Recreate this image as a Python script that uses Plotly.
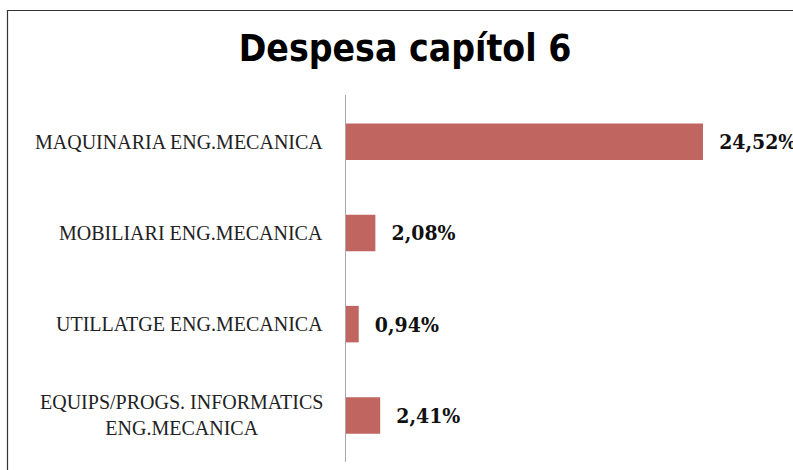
import plotly.graph_objects as go

categories = ["MAQUINARIA ENG.MECANICA", "MOBILIARI ENG.MECANICA",
              "UTILLATGE ENG.MECANICA", "EQUIPS/PROGS. INFORMATICS<br>ENG.MECANICA"]
values = [24.52, 2.08, 0.94, 2.41]
title = "Despesa capítol 6"

W, H = 793, 470
ml, mr, mt, mb = 345, 0, 96, 9
pw = W - ml - mr
ph = H - mt - mb

fig = go.Figure()
fig.add_trace(go.Bar(
    y=categories, x=values, orientation="h",
    marker=dict(color="#c0655f", line=dict(width=0)),
    width=0.4,
    text=[f"{v:.2f}".replace(".", ",") + "%" for v in values],
    textposition="outside",
    texttemplate="  %{text}",
    textfont=dict(family="DejaVu Serif Condensed", size=21, color="#111111", weight="bold"),
    cliponaxis=False,
    hoverinfo="skip",
))

annotations = []
for c in categories:
    annotations.append(dict(
        x=0, y=c, xref="x", yref="y", text=c, showarrow=False,
        xanchor="right", yanchor="middle", align="center", xshift=-20,
        font=dict(family="Liberation Serif", size=20, color="#222222"),
    ))

xmax = pw / 14.6
fig.update_layout(
    width=W, height=H,
    margin=dict(l=ml, r=mr, t=mt, b=mb, pad=0),
    paper_bgcolor="white", plot_bgcolor="white",
    title=dict(text="<b>" + title + "</b>", x=405 / W, xanchor="center",
               y=1 - 48 / H, yanchor="middle",
               font=dict(family="DejaVu Sans Condensed", size=37, color="black")),
    xaxis=dict(range=[0, xmax], visible=False, fixedrange=True),
    yaxis=dict(categoryorder="array", categoryarray=categories, autorange="reversed",
               showticklabels=False, showgrid=False, zeroline=False,
               showline=False, ticks="", fixedrange=True),
    showlegend=False,
    annotations=annotations,
    shapes=[
        dict(type="line", xref="x", yref="paper", x0=0, x1=0, y0=-0.003, y1=1.003,
             line=dict(color="#a8a8a8", width=2)),
        dict(type="rect", xref="paper", yref="paper",
             x0=(7.5 - ml) / pw, x1=(W + 5 - ml) / pw,
             y0=-0.2, y1=(H - mb - 10.5) / ph,
             line=dict(color="#333333", width=1.2), fillcolor="rgba(0,0,0,0)", layer="above"),
    ],
)

fig.write_html("out.html", config={"displayModeBar": False},
               post_script="document.body.style.margin='0';")
